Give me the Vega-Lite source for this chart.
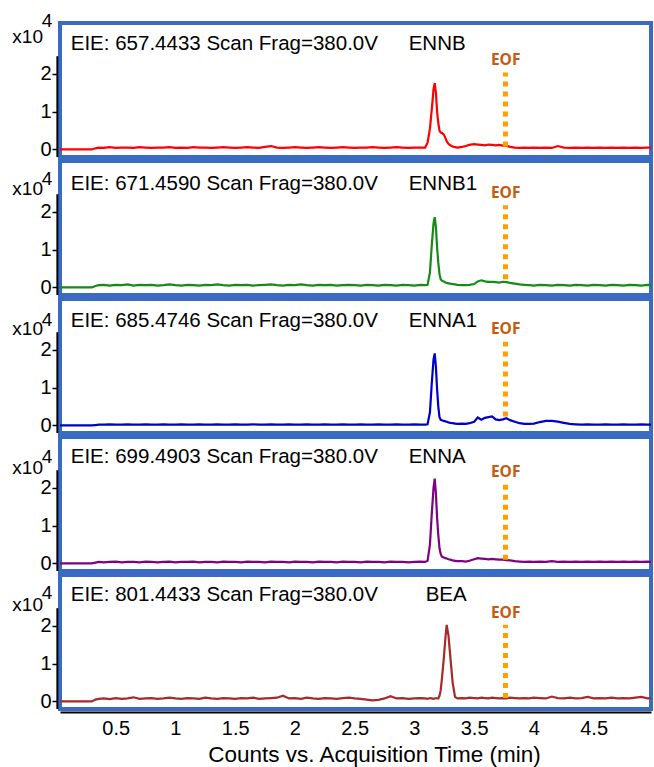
{
"$schema": "https://vega.github.io/schema/vega-lite/v6.json",
"padding": {"left": 10, "top": 10, "right": 0, "bottom": 0},
"background": "white",
"spacing": 4,
"bounds": "flush",
"config": {
 "view": {"stroke": "#3a6bc4", "strokeWidth": 4},
 "axis": {"grid": false, "labelFont": "Liberation Sans", "labelFontSize": 20, "labelColor": "#000", "titleFont": "Liberation Sans", "titleColor": "#000", "titleFontWeight": "normal"},
 "text": {"font": "Liberation Sans"}
},
"datasets": {"tr": [
{"t":0.034,"a":0,"b":0,"c":0,"d":0,"e":0},
{"t":0.30,"a":0,"b":0,"c":0,"d":0,"e":0},
{"t":0.33,"a":0.03,"b":0.04,"c":0.01,"d":0.02,"e":0.05},
{"t":0.36,"a":0.05,"b":0.06,"c":0.02,"d":0.04,"e":0.07},
{"t":0.40,"a":0.04,"b":0.07,"c":0.02,"d":0.03,"e":0.08},
{"t":0.45,"a":0.06,"b":0.05,"c":0.03,"d":0.04,"e":0.06},
{"t":0.50,"a":0.04,"b":0.07,"c":0.02,"d":0.05,"e":0.09},
{"t":0.55,"a":0.05,"b":0.06,"c":0.02,"d":0.03,"e":0.07},
{"t":0.60,"a":0.05,"b":0.08,"c":0.03,"d":0.04,"e":0.08},
{"t":0.65,"a":0.04,"b":0.05,"c":0.02,"d":0.04,"e":0.11},
{"t":0.70,"a":0.06,"b":0.07,"c":0.02,"d":0.03,"e":0.07},
{"t":0.75,"a":0.05,"b":0.06,"c":0.03,"d":0.05,"e":0.08},
{"t":0.80,"a":0.04,"b":0.07,"c":0.02,"d":0.04,"e":0.09},
{"t":0.85,"a":0.05,"b":0.05,"c":0.02,"d":0.03,"e":0.07},
{"t":0.90,"a":0.05,"b":0.06,"c":0.03,"d":0.04,"e":0.08},
{"t":0.95,"a":0.06,"b":0.08,"c":0.02,"d":0.05,"e":0.10},
{"t":1.00,"a":0.04,"b":0.06,"c":0.02,"d":0.03,"e":0.08},
{"t":1.05,"a":0.05,"b":0.05,"c":0.03,"d":0.04,"e":0.07},
{"t":1.10,"a":0.04,"b":0.07,"c":0.02,"d":0.04,"e":0.09},
{"t":1.15,"a":0.06,"b":0.06,"c":0.02,"d":0.05,"e":0.08},
{"t":1.20,"a":0.05,"b":0.05,"c":0.03,"d":0.03,"e":0.07},
{"t":1.25,"a":0.05,"b":0.07,"c":0.02,"d":0.04,"e":0.10},
{"t":1.30,"a":0.04,"b":0.06,"c":0.02,"d":0.04,"e":0.08},
{"t":1.35,"a":0.05,"b":0.08,"c":0.03,"d":0.03,"e":0.07},
{"t":1.40,"a":0.06,"b":0.06,"c":0.02,"d":0.05,"e":0.09},
{"t":1.45,"a":0.05,"b":0.05,"c":0.02,"d":0.04,"e":0.08},
{"t":1.50,"a":0.04,"b":0.07,"c":0.03,"d":0.04,"e":0.07},
{"t":1.55,"a":0.05,"b":0.06,"c":0.02,"d":0.03,"e":0.09},
{"t":1.60,"a":0.06,"b":0.07,"c":0.02,"d":0.05,"e":0.08},
{"t":1.65,"a":0.05,"b":0.05,"c":0.03,"d":0.04,"e":0.10},
{"t":1.70,"a":0.04,"b":0.06,"c":0.02,"d":0.04,"e":0.07},
{"t":1.75,"a":0.07,"b":0.07,"c":0.02,"d":0.03,"e":0.08},
{"t":1.80,"a":0.09,"b":0.08,"c":0.03,"d":0.05,"e":0.09},
{"t":1.85,"a":0.05,"b":0.06,"c":0.02,"d":0.04,"e":0.10},
{"t":1.90,"a":0.04,"b":0.05,"c":0.02,"d":0.04,"e":0.15},
{"t":1.95,"a":0.05,"b":0.07,"c":0.03,"d":0.03,"e":0.08},
{"t":2.00,"a":0.06,"b":0.06,"c":0.02,"d":0.05,"e":0.09},
{"t":2.05,"a":0.05,"b":0.08,"c":0.02,"d":0.04,"e":0.07},
{"t":2.10,"a":0.04,"b":0.06,"c":0.03,"d":0.04,"e":0.10},
{"t":2.15,"a":0.05,"b":0.05,"c":0.02,"d":0.03,"e":0.08},
{"t":2.20,"a":0.06,"b":0.07,"c":0.02,"d":0.05,"e":0.07},
{"t":2.25,"a":0.05,"b":0.06,"c":0.03,"d":0.04,"e":0.09},
{"t":2.30,"a":0.04,"b":0.07,"c":0.02,"d":0.04,"e":0.08},
{"t":2.35,"a":0.05,"b":0.05,"c":0.02,"d":0.03,"e":0.07},
{"t":2.40,"a":0.06,"b":0.06,"c":0.03,"d":0.05,"e":0.09},
{"t":2.45,"a":0.05,"b":0.07,"c":0.02,"d":0.04,"e":0.10},
{"t":2.50,"a":0.04,"b":0.06,"c":0.02,"d":0.04,"e":0.08},
{"t":2.55,"a":0.05,"b":0.05,"c":0.03,"d":0.03,"e":0.07},
{"t":2.60,"a":0.05,"b":0.07,"c":0.02,"d":0.05,"e":0.05},
{"t":2.65,"a":0.06,"b":0.06,"c":0.02,"d":0.04,"e":0.03},
{"t":2.70,"a":0.05,"b":0.05,"c":0.03,"d":0.04,"e":0.04},
{"t":2.75,"a":0.04,"b":0.07,"c":0.02,"d":0.03,"e":0.08},
{"t":2.80,"a":0.05,"b":0.06,"c":0.02,"d":0.05,"e":0.14},
{"t":2.85,"a":0.06,"b":0.05,"c":0.03,"d":0.04,"e":0.08},
{"t":2.90,"a":0.05,"b":0.07,"c":0.02,"d":0.04,"e":0.09},
{"t":2.95,"a":0.04,"b":0.06,"c":0.02,"d":0.03,"e":0.07},
{"t":3.00,"a":0.05,"b":0.05,"c":0.03,"d":0.04,"e":0.08},
{"t":3.05,"a":0.05,"b":0.07,"c":0.02,"d":0.05,"e":0.09},
{"t":3.09,"a":0.05,"b":0.06,"c":0.02,"d":0.04,"e":0.08},
{"t":3.11,"a":0.18,"b":0.07,"c":0.03,"d":0.07,"e":0.07},
{"t":3.13,"a":0.55,"b":0.40,"c":0.35,"d":0.50,"e":0.09},
{"t":3.145,"a":1.05,"b":1.10,"c":1.10,"d":1.30,"e":0.08},
{"t":3.16,"a":1.60,"b":1.70,"c":1.75,"d":2.00,"e":0.07},
{"t":3.17,"a":1.76,"b":1.86,"c":1.91,"d":2.25,"e":0.08},
{"t":3.18,"a":1.50,"b":1.60,"c":1.55,"d":1.85,"e":0.09},
{"t":3.19,"a":1.00,"b":1.05,"c":0.95,"d":1.20,"e":0.08},
{"t":3.20,"a":0.70,"b":0.65,"c":0.50,"d":0.75,"e":0.08},
{"t":3.21,"a":0.50,"b":0.35,"c":0.22,"d":0.40,"e":0.15},
{"t":3.22,"a":0.45,"b":0.22,"c":0.15,"d":0.25,"e":0.30},
{"t":3.23,"a":0.44,"b":0.18,"c":0.14,"d":0.18,"e":0.60},
{"t":3.245,"a":0.40,"b":0.16,"c":0.12,"d":0.16,"e":1.10},
{"t":3.26,"a":0.30,"b":0.13,"c":0.11,"d":0.14,"e":1.70},
{"t":3.27,"a":0.22,"b":0.12,"c":0.10,"d":0.13,"e":2.03},
{"t":3.285,"a":0.15,"b":0.11,"c":0.08,"d":0.11,"e":1.75},
{"t":3.30,"a":0.11,"b":0.10,"c":0.07,"d":0.10,"e":1.20},
{"t":3.32,"a":0.08,"b":0.09,"c":0.06,"d":0.08,"e":0.50},
{"t":3.34,"a":0.06,"b":0.08,"c":0.05,"d":0.07,"e":0.12},
{"t":3.36,"a":0.05,"b":0.07,"c":0.04,"d":0.06,"e":0.08},
{"t":3.40,"a":0.07,"b":0.06,"c":0.05,"d":0.06,"e":0.09},
{"t":3.43,"a":0.09,"b":0.06,"c":0.04,"d":0.05,"e":0.08},
{"t":3.46,"a":0.12,"b":0.07,"c":0.06,"d":0.07,"e":0.10},
{"t":3.50,"a":0.14,"b":0.09,"c":0.10,"d":0.11,"e":0.09},
{"t":3.53,"a":0.13,"b":0.16,"c":0.21,"d":0.14,"e":0.08},
{"t":3.56,"a":0.12,"b":0.19,"c":0.15,"d":0.13,"e":0.10},
{"t":3.59,"a":0.11,"b":0.16,"c":0.20,"d":0.12,"e":0.09},
{"t":3.62,"a":0.13,"b":0.15,"c":0.22,"d":0.11,"e":0.08},
{"t":3.65,"a":0.12,"b":0.15,"c":0.24,"d":0.12,"e":0.10},
{"t":3.68,"a":0.11,"b":0.14,"c":0.16,"d":0.11,"e":0.09},
{"t":3.71,"a":0.12,"b":0.13,"c":0.14,"d":0.10,"e":0.08},
{"t":3.74,"a":0.10,"b":0.15,"c":0.16,"d":0.10,"e":0.09},
{"t":3.77,"a":0.10,"b":0.14,"c":0.19,"d":0.09,"e":0.08},
{"t":3.80,"a":0.07,"b":0.12,"c":0.14,"d":0.08,"e":0.10},
{"t":3.84,"a":0.05,"b":0.10,"c":0.10,"d":0.06,"e":0.09},
{"t":3.88,"a":0.04,"b":0.08,"c":0.06,"d":0.05,"e":0.08},
{"t":3.92,"a":0.05,"b":0.07,"c":0.04,"d":0.04,"e":0.09},
{"t":3.96,"a":0.04,"b":0.06,"c":0.04,"d":0.05,"e":0.08},
{"t":4.00,"a":0.05,"b":0.05,"c":0.05,"d":0.04,"e":0.10},
{"t":4.05,"a":0.04,"b":0.07,"c":0.09,"d":0.05,"e":0.09},
{"t":4.10,"a":0.05,"b":0.06,"c":0.12,"d":0.04,"e":0.08},
{"t":4.15,"a":0.04,"b":0.05,"c":0.12,"d":0.06,"e":0.13},
{"t":4.20,"a":0.09,"b":0.07,"c":0.10,"d":0.04,"e":0.09},
{"t":4.25,"a":0.05,"b":0.06,"c":0.07,"d":0.05,"e":0.08},
{"t":4.30,"a":0.04,"b":0.05,"c":0.04,"d":0.04,"e":0.10},
{"t":4.35,"a":0.05,"b":0.07,"c":0.03,"d":0.05,"e":0.08},
{"t":4.40,"a":0.04,"b":0.06,"c":0.02,"d":0.04,"e":0.09},
{"t":4.45,"a":0.05,"b":0.05,"c":0.03,"d":0.05,"e":0.12},
{"t":4.50,"a":0.04,"b":0.07,"c":0.02,"d":0.04,"e":0.08},
{"t":4.55,"a":0.05,"b":0.06,"c":0.02,"d":0.05,"e":0.09},
{"t":4.60,"a":0.04,"b":0.05,"c":0.03,"d":0.04,"e":0.08},
{"t":4.65,"a":0.05,"b":0.07,"c":0.02,"d":0.05,"e":0.10},
{"t":4.70,"a":0.04,"b":0.06,"c":0.02,"d":0.04,"e":0.08},
{"t":4.75,"a":0.05,"b":0.05,"c":0.03,"d":0.05,"e":0.09},
{"t":4.80,"a":0.04,"b":0.07,"c":0.02,"d":0.04,"e":0.08},
{"t":4.85,"a":0.05,"b":0.06,"c":0.02,"d":0.05,"e":0.10},
{"t":4.90,"a":0.04,"b":0.05,"c":0.03,"d":0.04,"e":0.12},
{"t":4.95,"a":0.05,"b":0.07,"c":0.02,"d":0.05,"e":0.08},
{"t":4.98,"a":0.05,"b":0.06,"c":0.02,"d":0.04,"e":0.09}
]},
"vconcat": [
{"width": 591, "height": 134, "layer": [
 {"data": {"name": "tr"}, "mark": {"type": "line", "color": "#ff0000", "strokeWidth": 2.2},
  "encoding": {"x": {"field": "t", "type": "quantitative", "scale": {"domain": [0.034, 4.98], "nice": false, "zero": false}, "axis": null},
   "y": {"field": "a", "type": "quantitative", "scale": {"domain": [-0.2, 3.35], "nice": false, "zero": false}, "axis": {"values": [0, 1, 2], "title": null, "domain": false, "tickColor": "#000", "tickWidth": 1.5, "tickSize": 5, "offset": 3, "labelPadding": 1}}}},
 {"data": {"values": [{}]}, "mark": {"type": "rule", "color": "#000", "strokeWidth": 2}, "encoding": {"x": {"datum": 0.012, "axis": null}, "y": {"datum": -0.2}, "y2": {"datum": 2.47}}},
 {"data": {"values": [{}]}, "mark": {"type": "rule", "color": "#ffa000", "strokeWidth": 5, "strokeDash": [5, 5]}, "encoding": {"x": {"datum": 3.762, "axis": null}, "y": {"datum": 0.08}, "y2": {"datum": 2.04}}},
 {"data": {"values": [{}]}, "mark": {"type": "text", "text": "EOF", "font": "Open Sans", "fontWeight": "bold", "fontSize": 15.5, "color": "#c55a11", "align": "center", "baseline": "middle"}, "encoding": {"x": {"datum": 3.764, "axis": null}, "y": {"datum": 2.38}}},
 {"data": {"values": [{}]}, "mark": {"type": "text", "text": "EIE: 657.4433 Scan Frag=380.0V", "fontSize": 20.5, "align": "left", "baseline": "middle", "color": "#000"}, "encoding": {"x": {"datum": 0.124, "axis": null}, "y": {"datum": 2.79}}},
 {"data": {"values": [{}]}, "mark": {"type": "text", "text": "ENNB", "fontSize": 20.5, "align": "left", "baseline": "middle", "color": "#000"}, "encoding": {"x": {"datum": 2.952, "axis": null}, "y": {"datum": 2.79}}},
 {"data": {"values": [{}]}, "mark": {"type": "text", "text": "x10", "fontSize": 19, "align": "left", "baseline": "middle", "color": "#000"}, "encoding": {"x": {"datum": -0.365, "axis": null}, "y": {"datum": 2.99}}},
 {"data": {"values": [{}]}, "mark": {"type": "text", "text": "4", "fontSize": 19, "align": "left", "baseline": "middle", "color": "#000"}, "encoding": {"x": {"datum": -0.119, "axis": null}, "y": {"datum": 3.4}}}
]},
{"width": 591, "height": 134, "layer": [
 {"data": {"name": "tr"}, "mark": {"type": "line", "color": "#158a15", "strokeWidth": 2.2},
  "encoding": {"x": {"field": "t", "type": "quantitative", "scale": {"domain": [0.034, 4.98], "nice": false, "zero": false}, "axis": null},
   "y": {"field": "b", "type": "quantitative", "scale": {"domain": [-0.2, 3.35], "nice": false, "zero": false}, "axis": {"values": [0, 1, 2], "title": null, "domain": false, "tickColor": "#000", "tickWidth": 1.5, "tickSize": 5, "offset": 3, "labelPadding": 1}}}},
 {"data": {"values": [{}]}, "mark": {"type": "rule", "color": "#000", "strokeWidth": 2}, "encoding": {"x": {"datum": 0.012, "axis": null}, "y": {"datum": -0.2}, "y2": {"datum": 2.47}}},
 {"data": {"values": [{}]}, "mark": {"type": "rule", "color": "#ffa000", "strokeWidth": 5, "strokeDash": [5, 5]}, "encoding": {"x": {"datum": 3.762, "axis": null}, "y": {"datum": 0.22}, "y2": {"datum": 2.18}}},
 {"data": {"values": [{}]}, "mark": {"type": "text", "text": "EOF", "font": "Open Sans", "fontWeight": "bold", "fontSize": 15.5, "color": "#c55a11", "align": "center", "baseline": "middle"}, "encoding": {"x": {"datum": 3.764, "axis": null}, "y": {"datum": 2.49}}},
 {"data": {"values": [{}]}, "mark": {"type": "text", "text": "EIE: 671.4590 Scan Frag=380.0V", "fontSize": 20.5, "align": "left", "baseline": "middle", "color": "#000"}, "encoding": {"x": {"datum": 0.124, "axis": null}, "y": {"datum": 2.75}}},
 {"data": {"values": [{}]}, "mark": {"type": "text", "text": "ENNB1", "fontSize": 20.5, "align": "left", "baseline": "middle", "color": "#000"}, "encoding": {"x": {"datum": 2.952, "axis": null}, "y": {"datum": 2.75}}},
 {"data": {"values": [{}]}, "mark": {"type": "text", "text": "x10", "fontSize": 19, "align": "left", "baseline": "middle", "color": "#000"}, "encoding": {"x": {"datum": -0.365, "axis": null}, "y": {"datum": 2.6}}},
 {"data": {"values": [{}]}, "mark": {"type": "text", "text": "4", "fontSize": 19, "align": "left", "baseline": "middle", "color": "#000"}, "encoding": {"x": {"datum": -0.119, "axis": null}, "y": {"datum": 2.88}}}
]},
{"width": 591, "height": 134, "layer": [
 {"data": {"name": "tr"}, "mark": {"type": "line", "color": "#0000cd", "strokeWidth": 2.2},
  "encoding": {"x": {"field": "t", "type": "quantitative", "scale": {"domain": [0.034, 4.98], "nice": false, "zero": false}, "axis": null},
   "y": {"field": "c", "type": "quantitative", "scale": {"domain": [-0.2, 3.35], "nice": false, "zero": false}, "axis": {"values": [0, 1, 2], "title": null, "domain": false, "tickColor": "#000", "tickWidth": 1.5, "tickSize": 5, "offset": 3, "labelPadding": 1}}}},
 {"data": {"values": [{}]}, "mark": {"type": "rule", "color": "#000", "strokeWidth": 2}, "encoding": {"x": {"datum": 0.012, "axis": null}, "y": {"datum": -0.2}, "y2": {"datum": 2.47}}},
 {"data": {"values": [{}]}, "mark": {"type": "rule", "color": "#ffa000", "strokeWidth": 5, "strokeDash": [5, 5]}, "encoding": {"x": {"datum": 3.762, "axis": null}, "y": {"datum": 0.24}, "y2": {"datum": 2.22}}},
 {"data": {"values": [{}]}, "mark": {"type": "text", "text": "EOF", "font": "Open Sans", "fontWeight": "bold", "fontSize": 15.5, "color": "#c55a11", "align": "center", "baseline": "middle"}, "encoding": {"x": {"datum": 3.764, "axis": null}, "y": {"datum": 2.56}}},
 {"data": {"values": [{}]}, "mark": {"type": "text", "text": "EIE: 685.4746 Scan Frag=380.0V", "fontSize": 20.5, "align": "left", "baseline": "middle", "color": "#000"}, "encoding": {"x": {"datum": 0.124, "axis": null}, "y": {"datum": 2.78}}},
 {"data": {"values": [{}]}, "mark": {"type": "text", "text": "ENNA1", "fontSize": 20.5, "align": "left", "baseline": "middle", "color": "#000"}, "encoding": {"x": {"datum": 2.952, "axis": null}, "y": {"datum": 2.78}}},
 {"data": {"values": [{}]}, "mark": {"type": "text", "text": "x10", "fontSize": 19, "align": "left", "baseline": "middle", "color": "#000"}, "encoding": {"x": {"datum": -0.365, "axis": null}, "y": {"datum": 2.55}}},
 {"data": {"values": [{}]}, "mark": {"type": "text", "text": "4", "fontSize": 19, "align": "left", "baseline": "middle", "color": "#000"}, "encoding": {"x": {"datum": -0.119, "axis": null}, "y": {"datum": 2.8}}}
]},
{"width": 591, "height": 134, "layer": [
 {"data": {"name": "tr"}, "mark": {"type": "line", "color": "#800080", "strokeWidth": 2.2},
  "encoding": {"x": {"field": "t", "type": "quantitative", "scale": {"domain": [0.034, 4.98], "nice": false, "zero": false}, "axis": null},
   "y": {"field": "d", "type": "quantitative", "scale": {"domain": [-0.2, 3.35], "nice": false, "zero": false}, "axis": {"values": [0, 1, 2], "title": null, "domain": false, "tickColor": "#000", "tickWidth": 1.5, "tickSize": 5, "offset": 3, "labelPadding": 1}}}},
 {"data": {"values": [{}]}, "mark": {"type": "rule", "color": "#000", "strokeWidth": 2}, "encoding": {"x": {"datum": 0.012, "axis": null}, "y": {"datum": -0.2}, "y2": {"datum": 2.47}}},
 {"data": {"values": [{}]}, "mark": {"type": "rule", "color": "#ffa000", "strokeWidth": 5, "strokeDash": [5, 5]}, "encoding": {"x": {"datum": 3.762, "axis": null}, "y": {"datum": 0.1}, "y2": {"datum": 2.1}}},
 {"data": {"values": [{}]}, "mark": {"type": "text", "text": "EOF", "font": "Open Sans", "fontWeight": "bold", "fontSize": 15.5, "color": "#c55a11", "align": "center", "baseline": "middle"}, "encoding": {"x": {"datum": 3.764, "axis": null}, "y": {"datum": 2.43}}},
 {"data": {"values": [{}]}, "mark": {"type": "text", "text": "EIE: 699.4903 Scan Frag=380.0V", "fontSize": 20.5, "align": "left", "baseline": "middle", "color": "#000"}, "encoding": {"x": {"datum": 0.124, "axis": null}, "y": {"datum": 2.81}}},
 {"data": {"values": [{}]}, "mark": {"type": "text", "text": "ENNA", "fontSize": 20.5, "align": "left", "baseline": "middle", "color": "#000"}, "encoding": {"x": {"datum": 2.952, "axis": null}, "y": {"datum": 2.81}}},
 {"data": {"values": [{}]}, "mark": {"type": "text", "text": "x10", "fontSize": 19, "align": "left", "baseline": "middle", "color": "#000"}, "encoding": {"x": {"datum": -0.365, "axis": null}, "y": {"datum": 2.53}}},
 {"data": {"values": [{}]}, "mark": {"type": "text", "text": "4", "fontSize": 19, "align": "left", "baseline": "middle", "color": "#000"}, "encoding": {"x": {"datum": -0.119, "axis": null}, "y": {"datum": 2.81}}}
]},
{"width": 591, "height": 134, "layer": [
 {"data": {"name": "tr"}, "mark": {"type": "line", "color": "#a52a2a", "strokeWidth": 2.2},
  "encoding": {"x": {"field": "t", "type": "quantitative", "scale": {"domain": [0.034, 4.98], "nice": false, "zero": false}, "axis": {"values": [0.5, 1, 1.5, 2, 2.5, 3, 3.5, 4, 4.5], "format": "~g", "title": "Counts vs. Acquisition Time (min)", "titleFontSize": 22.5, "titlePadding": 5, "titleX": 314, "domain": true, "domainColor": "#000", "domainWidth": 2, "ticks": false, "offset": 3, "labelPadding": 6}},
   "y": {"field": "e", "type": "quantitative", "scale": {"domain": [-0.2, 3.35], "nice": false, "zero": false}, "axis": {"values": [0, 1, 2], "title": null, "domain": false, "tickColor": "#000", "tickWidth": 1.5, "tickSize": 5, "offset": 3, "labelPadding": 1}}}},
 {"data": {"values": [{}]}, "mark": {"type": "rule", "color": "#000", "strokeWidth": 2}, "encoding": {"x": {"datum": 0.012}, "y": {"datum": -0.2}, "y2": {"datum": 2.47}}},
 {"data": {"values": [{}]}, "mark": {"type": "rule", "color": "#ffa000", "strokeWidth": 5, "strokeDash": [5, 5]}, "encoding": {"x": {"datum": 3.762}, "y": {"datum": 0.09}, "y2": {"datum": 2.03}}},
 {"data": {"values": [{}]}, "mark": {"type": "text", "text": "EOF", "font": "Open Sans", "fontWeight": "bold", "fontSize": 15.5, "color": "#c55a11", "align": "center", "baseline": "middle"}, "encoding": {"x": {"datum": 3.764}, "y": {"datum": 2.34}}},
 {"data": {"values": [{}]}, "mark": {"type": "text", "text": "EIE: 801.4433 Scan Frag=380.0V", "fontSize": 20.5, "align": "left", "baseline": "middle", "color": "#000"}, "encoding": {"x": {"datum": 0.124}, "y": {"datum": 2.82}}},
 {"data": {"values": [{}]}, "mark": {"type": "text", "text": "BEA", "fontSize": 20.5, "align": "left", "baseline": "middle", "color": "#000"}, "encoding": {"x": {"datum": 3.094}, "y": {"datum": 2.83}}},
 {"data": {"values": [{}]}, "mark": {"type": "text", "text": "x10", "fontSize": 19, "align": "left", "baseline": "middle", "color": "#000"}, "encoding": {"x": {"datum": -0.365}, "y": {"datum": 2.55}}},
 {"data": {"values": [{}]}, "mark": {"type": "text", "text": "4", "fontSize": 19, "align": "left", "baseline": "middle", "color": "#000"}, "encoding": {"x": {"datum": -0.119}, "y": {"datum": 2.86}}}
]}
]
}
